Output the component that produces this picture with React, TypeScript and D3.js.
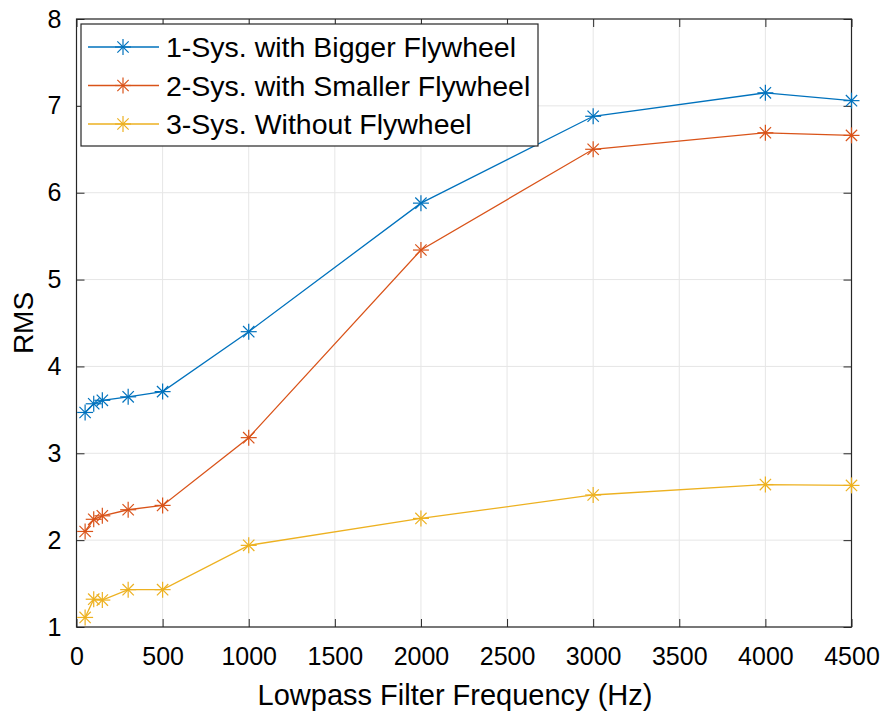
import React, { useEffect, useRef } from 'react';
import * as d3 from 'd3';

const freqs = [50, 100, 150, 300, 500, 1000, 2000, 3000, 4000, 4500];
const bigger = [3.47, 3.57, 3.61, 3.65, 3.71, 4.4, 5.88, 6.88, 7.15, 7.06];
const smaller = [2.1, 2.24, 2.28, 2.35, 2.4, 3.18, 5.34, 6.5, 6.69, 6.66];
const without = [1.11, 1.32, 1.31, 1.43, 1.43, 1.94, 2.25, 2.52, 2.64, 2.63];
const seriesNames = [
  '1-Sys. with Bigger Flywheel',
  '2-Sys. with Smaller Flywheel',
  '3-Sys. Without Flywheel',
];
const seriesColors = ['#0072BD', '#D95319', '#EDB120'];
const xTicks = [0, 500, 1000, 1500, 2000, 2500, 3000, 3500, 4000, 4500];
const yTicks = [1, 2, 3, 4, 5, 6, 7, 8];

const App = () => {
  const svgRef = useRef(null);

  useEffect(() => {
    document.body.style.margin = '0';
    const svg = d3.select(svgRef.current);
    svg.selectAll('*').remove();
    const width = 884;
    const height = 712;
    const margin = { top: 19, right: 32.5, bottom: 85, left: 76.5 };
    const innerWidth = width - margin.left - margin.right;
    const innerHeight = height - margin.top - margin.bottom;
    const font = '"Liberation Sans", Arial, sans-serif';
    const axisColor = '#262626';

    const x = d3.scaleLinear().domain([0, 4500]).range([0, innerWidth]);
    const y = d3.scaleLinear().domain([1, 8]).range([innerHeight, 0]);

    svg.attr('width', width).attr('height', height);
    svg.append('rect').attr('width', width).attr('height', height).attr('fill', 'white');

    const g = svg.append('g').attr('transform', `translate(${margin.left},${margin.top})`);

    // grid
    g.append('g')
      .selectAll('line')
      .data(xTicks)
      .join('line')
      .attr('x1', d => x(d))
      .attr('x2', d => x(d))
      .attr('y1', 0)
      .attr('y2', innerHeight)
      .attr('stroke', '#e6e6e6')
      .attr('stroke-width', 1);
    g.append('g')
      .selectAll('line')
      .data(yTicks)
      .join('line')
      .attr('x1', 0)
      .attr('x2', innerWidth)
      .attr('y1', d => y(d))
      .attr('y2', d => y(d))
      .attr('stroke', '#e6e6e6')
      .attr('stroke-width', 1);

    // axes with inward ticks
    const styleAxis = (sel) => {
      sel.select('.domain').remove();
      sel.selectAll('line').attr('stroke', axisColor);
      sel.selectAll('text')
        .attr('fill', '#000')
        .style('font-family', font)
        .style('font-size', '25px');
    };

    g.append('g')
      .attr('transform', `translate(0,${innerHeight})`)
      .call(d3.axisBottom(x).tickValues(xTicks).tickSizeInner(-8).tickSizeOuter(0).tickPadding(20).tickFormat(d3.format('d')))
      .call(styleAxis);
    g.append('g')
      .call(d3.axisTop(x).tickValues(xTicks).tickSizeInner(-8).tickSizeOuter(0).tickFormat(() => ''))
      .call(styleAxis);
    g.append('g')
      .call(d3.axisLeft(y).tickValues(yTicks).tickSizeInner(-8).tickSizeOuter(0).tickPadding(15).tickFormat(d3.format('d')))
      .call(styleAxis);
    g.append('g')
      .attr('transform', `translate(${innerWidth},0)`)
      .call(d3.axisRight(y).tickValues(yTicks).tickSizeInner(-8).tickSizeOuter(0).tickFormat(() => ''))
      .call(styleAxis);

    g.append('rect')
      .attr('width', innerWidth)
      .attr('height', innerHeight)
      .attr('fill', 'none')
      .attr('stroke', axisColor)
      .attr('stroke-width', 1.2);

    // series
    const allSeries = [bigger, smaller, without];
    const line = d3.line()
      .x((d, i) => x(freqs[i]))
      .y(d => y(d));

    const star = (sel, r) => {
      const a = r * Math.SQRT1_2;
      sel.append('line').attr('x1', -r).attr('x2', r).attr('y1', 0).attr('y2', 0);
      sel.append('line').attr('x1', 0).attr('x2', 0).attr('y1', -r).attr('y2', r);
      sel.append('line').attr('x1', -a).attr('x2', a).attr('y1', -a).attr('y2', a);
      sel.append('line').attr('x1', -a).attr('x2', a).attr('y1', a).attr('y2', -a);
    };

    allSeries.forEach((vals, si) => {
      g.append('path')
        .datum(vals)
        .attr('fill', 'none')
        .attr('stroke', seriesColors[si])
        .attr('stroke-width', 1.3)
        .attr('d', line);
      vals.forEach((v, i) => {
        const m = g.append('g')
          .attr('transform', `translate(${x(freqs[i])},${y(v)})`)
          .attr('stroke', seriesColors[si])
          .attr('stroke-width', 1.2);
        star(m, 8);
      });
    });

    // legend
    const lg = svg.append('g').attr('transform', 'translate(81,24)');
    lg.append('rect')
      .attr('width', 457)
      .attr('height', 122)
      .attr('fill', 'white')
      .attr('stroke', axisColor)
      .attr('stroke-width', 1.2);
    seriesNames.forEach((name, i) => {
      const cy = 23 + i * 38.5;
      lg.append('line')
        .attr('x1', 7).attr('x2', 78)
        .attr('y1', cy).attr('y2', cy)
        .attr('stroke', seriesColors[i])
        .attr('stroke-width', 1.3);
      const m = lg.append('g')
        .attr('transform', `translate(42,${cy})`)
        .attr('stroke', seriesColors[i])
        .attr('stroke-width', 1.2);
      star(m, 8);
      lg.append('text')
        .attr('x', 85)
        .attr('y', cy + 10)
        .style('font-family', font)
        .style('font-size', '28.5px')
        .attr('fill', '#000')
        .text(name);
    });

    // axis labels
    svg.append('text')
      .attr('x', 455)
      .attr('y', 705)
      .attr('text-anchor', 'middle')
      .style('font-family', font)
      .style('font-size', '29px')
      .attr('fill', '#000')
      .text('Lowpass Filter Frequency (Hz)');

    svg.append('text')
      .attr('transform', `translate(33,${margin.top + innerHeight / 2}) rotate(-90)`)
      .attr('text-anchor', 'middle')
      .style('font-family', font)
      .style('font-size', '28px')
      .attr('fill', '#000')
      .text('RMS');
  }, []);

  return (
    <div>
      <svg ref={svgRef}></svg>
    </div>
  );
};

export default App;
